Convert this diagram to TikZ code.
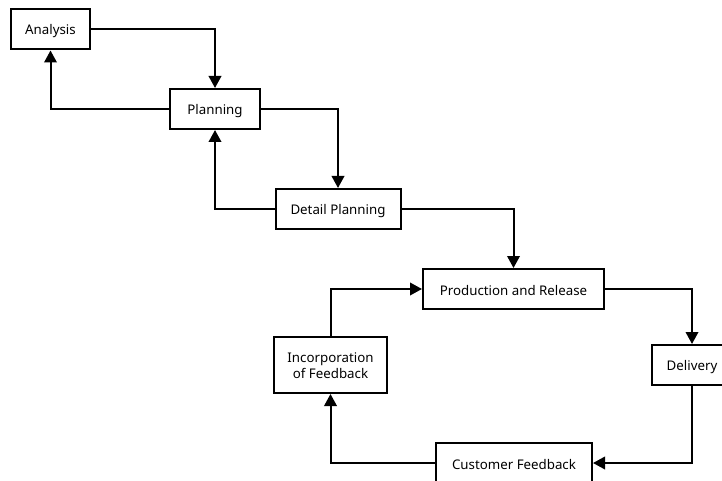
\documentclass[tikz,border=0pt]{standalone}
\usepackage{fontspec}
\setmainfont{Noto Sans}
\usetikzlibrary{arrows.meta}
\newcommand{\lowtxt}[1]{\raisebox{-2pt}[\height][\depth]{#1}}
\begin{document}
\begin{tikzpicture}[x=1pt,y=-1pt,
  box/.style={draw=black, line width=2pt, fill=white, minimum height=40pt, inner sep=0pt, font=\fontsize{13.3}{16.5}\selectfont},
  conn/.style={draw=black, line width=2pt, -{Triangle[length=12pt,width=12.5pt]}}]
\useasboundingbox (0,0) rectangle (722,481);
\clip (0,0) rectangle (722,481);
\node[box, minimum width=79pt] (ana) at (50.5,29.5) {\lowtxt{Analysis}};
\node[box, minimum width=90pt] (pla) at (215,109) {\lowtxt{Planning}};
\node[box, minimum width=125pt] (det) at (338,209) {\lowtxt{Detail Planning}};
\node[box, minimum width=181pt] (pro) at (513.5,289) {\lowtxt{Production and Release}};
\node[box, minimum width=80pt] (del) at (692,365) {\lowtxt{Delivery}};
\node[box, minimum width=156pt] (cus) at (514,463) {\lowtxt{Customer Feedback}};
\node[box, minimum width=113pt, minimum height=56pt] (inc) at (330.5,365) {\lowtxt{\begin{tabular}{@{}c@{}}Incorporation\\of Feedback\end{tabular}}};
\draw[conn] (ana.east) -| (pla.north);
\draw[conn] (pla.west) -| (ana.south);
\draw[conn] (pla.east) -| (det.north);
\draw[conn] (det.west) -| (pla.south);
\draw[conn] (det.east) -| (pro.north);
\draw[conn] (pro.east) -| (del.north);
\draw[conn] (del.south) |- (cus.east);
\draw[conn] (cus.west) -| (inc.south);
\draw[conn] (inc.north) |- (pro.west);
\end{tikzpicture}
\end{document}
